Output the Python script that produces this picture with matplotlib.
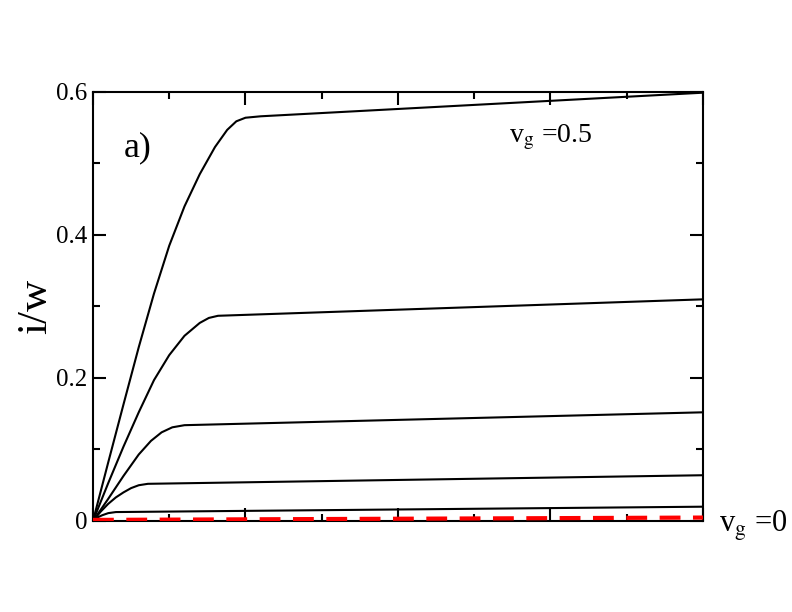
import matplotlib
matplotlib.use('Agg')
import matplotlib.pyplot as plt
from matplotlib.ticker import MultipleLocator, FixedLocator, FixedFormatter

plt.rcParams['font.family'] = ['Liberation Serif', 'DejaVu Serif']
plt.rcParams['mathtext.fontset'] = 'stix'

# curvas i/w frente a v
x1 = [0, 0.05, 0.1, 0.2, 0.3, 0.4, 0.5, 0.6, 0.7, 0.8, 0.88, 0.94, 1.0, 1.1, 4.0]
y1 = [0, 0.041, 0.082, 0.163, 0.243, 0.318, 0.385, 0.440, 0.485, 0.523, 0.547, 0.559, 0.564, 0.566, 0.599]

x2 = [0, 0.1, 0.2, 0.3, 0.4, 0.5, 0.6, 0.7, 0.76, 0.82, 4.0]
y2 = [0, 0.053, 0.104, 0.152, 0.197, 0.232, 0.259, 0.277, 0.284, 0.287, 0.310]

x3 = [0, 0.1, 0.2, 0.3, 0.38, 0.45, 0.52, 0.6, 4.0]
y3 = [0, 0.031, 0.063, 0.093, 0.112, 0.124, 0.131, 0.134, 0.152]

x4 = [0, 0.05, 0.1, 0.15, 0.2, 0.25, 0.3, 0.36, 4.0]
y4 = [0, 0.013, 0.024, 0.033, 0.040, 0.046, 0.050, 0.052, 0.064]

x5 = [0, 0.03, 0.06, 0.1, 0.15, 4.0]
y5 = [0, 0.005, 0.008, 0.011, 0.0125, 0.020]

x_cero = [0, 4.0]
y_cero = [0.0015, 0.0048]

fig = plt.figure(figsize=(7.92, 6.12), dpi=100)
ax = fig.add_axes([0.1174, 0.1487, 0.7702, 0.7010])

for xs, ys in [(x1, y1), (x2, y2), (x3, y3), (x4, y4), (x5, y5)]:
    ax.plot(xs, ys, color='black', linewidth=1.5)

ax.plot(x_cero, y_cero, color='red', linewidth=3, dashes=(5, 3), zorder=3)

ax.set_xlim(0, 4)
ax.set_ylim(0, 0.6)

ax.xaxis.set_major_locator(MultipleLocator(1))
ax.xaxis.set_minor_locator(MultipleLocator(0.5))
ax.set_xticklabels([])
ax.yaxis.set_major_locator(FixedLocator([0, 0.2, 0.4, 0.6]))
ax.yaxis.set_major_formatter(FixedFormatter(['0', '0.2', '0.4', '0.6']))
ax.yaxis.set_minor_locator(MultipleLocator(0.1))

ax.tick_params(which='both', direction='in', top=True, right=True, width=1.5)
ax.tick_params(which='major', length=9.5, labelsize=18, pad=4)
ax.tick_params(which='minor', length=5)
for s in ax.spines.values():
    s.set_linewidth(1.5)

ax.set_ylabel('i/w', fontsize=31, labelpad=0.5)

ax.text(0.2, 0.51, 'a)', fontsize=26)
ax.text(2.73, 0.53, r'v$_\mathrm{g}$ =0.5', fontsize=20)
ax.text(4.105, -0.015, r'v$_\mathrm{g}$ =0', fontsize=22, clip_on=False)

fig.savefig('out.png', dpi=100)
